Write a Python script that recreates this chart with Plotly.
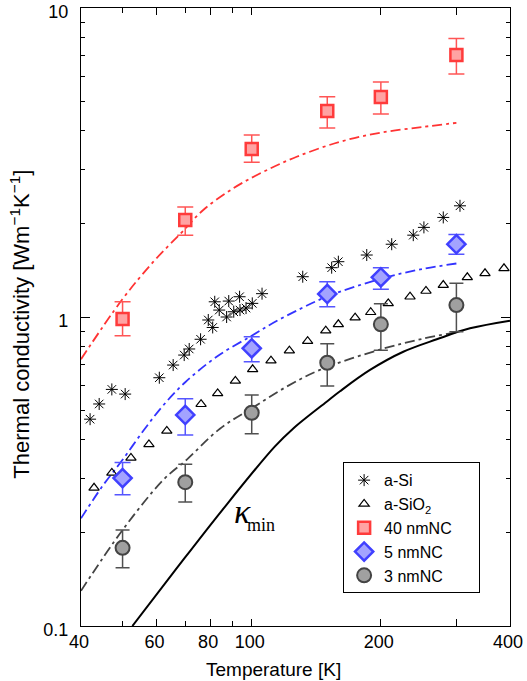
import numpy as np
import plotly.graph_objects as go

# ---------------- data ----------------
# a-Si (asterisks)
asi_T = [42.0, 44.1, 47.2, 50.7, 60.9, 65.6, 69.6, 71.5, 76.0, 79.2, 81.1, 82.0, 84.0,
         87.4, 88.4, 90.8, 93.7, 93.9, 97.0, 100.3, 105.7, 131.5, 153.6, 159.2, 185.4,
         212, 238, 252, 279.6, 305.8]
asi_k = [0.467, 0.523, 0.583, 0.563, 0.636, 0.699, 0.753, 0.788, 0.847, 0.978, 0.925, 1.12, 1.053,
         1.0, 1.126, 1.04, 1.163, 1.053, 1.069, 1.107, 1.19, 1.35, 1.444, 1.51, 1.587,
         1.72, 1.84, 1.95, 2.10, 2.29]

# a-SiO2 (open triangles)
sio2_T = [42.9, 47.2, 52.3, 57.6, 63.4, 76.2, 83.3, 91.6, 100.5, 110.9, 122.4, 135, 148.8,
          159.2, 174.2, 189.4, 208.1, 233.9, 254.8, 279.6, 318.1, 349.8, 387.3]
sio2_k = [0.280, 0.313, 0.350, 0.387, 0.428, 0.522, 0.566, 0.621, 0.677, 0.722, 0.778, 0.835, 0.903,
          0.947, 0.995, 1.036, 1.107, 1.163, 1.214, 1.269, 1.344, 1.385, 1.437]

# nanocrystals
nc_T = [50, 70, 100, 150, 200, 300]
nc40_k = [0.985, 2.06, 3.50, 4.64, 5.15, 7.04]
nc40_hi = [1.12, 2.27, 3.88, 5.16, 5.76, 7.96]
nc40_lo = [0.87, 1.84, 3.17, 4.09, 4.54, 6.12]

nc5_k = [0.301, 0.482, 0.792, 1.187, 1.344, 1.72]
nc5_hi = [0.338, 0.544, 0.863, 1.30, 1.444, 1.85]
nc5_lo = [0.266, 0.415, 0.717, 1.08, 1.23, 1.596]

nc3_k = [0.179, 0.292, 0.49, 0.711, 0.947, 1.093]
nc3_hi = [0.2045, 0.334, 0.559, 0.82, 1.104, 1.285]
nc3_lo = [0.1544, 0.252, 0.419, 0.598, 0.78, 0.896]

# model curves
fit40_T = [40, 49.8, 59.0, 68.7, 77.1, 90.6, 106.4, 127.3, 160.6, 200, 250, 300]
fit40_k = [0.73, 1.135, 1.51, 1.88, 2.22, 2.61, 2.95, 3.30, 3.69, 3.95, 4.12, 4.25]

fit5_T = [40, 45, 50, 56, 62, 70, 83, 100, 115, 132, 150, 200, 250, 300]
fit5_k = [0.223, 0.285, 0.345, 0.43, 0.515, 0.615, 0.745, 0.87, 0.975, 1.075, 1.165, 1.33, 1.43, 1.49]

fit3_T = [40, 50, 62.2, 70.5, 84.3, 100.8, 120.6, 144.2, 200, 250, 300]
fit3_k = [0.130, 0.2045, 0.297, 0.345, 0.435, 0.51, 0.595, 0.674, 0.786, 0.85, 0.892]

kmin_T = [52.7, 66.2, 85.1, 113, 125, 149.5, 160.6, 188.7, 225.6, 270, 322.7, 400]
kmin_k = [0.100, 0.151, 0.236, 0.380, 0.436, 0.532, 0.575, 0.674, 0.772, 0.847, 0.919, 0.973]

x_tickvals = [40, 60, 80, 100, 200, 300, 400]
x_ticktext = ["40", "60", "80", "100", "200", "", "400"]
x_minor = [50, 70, 90]
y_tickvals = [0.1, 1, 10]
y_ticktext = ["0.1", "1", "10"]
y_minor = [0.2, 0.3, 0.4, 0.5, 0.6, 0.7, 0.8, 0.9, 2, 3, 4, 5, 6, 7, 8, 9]

# ---------------- figure ----------------
FONT = "Liberation Sans, Arial, Helvetica, sans-serif"
SERIF = "Liberation Serif, Times New Roman, serif"
fig = go.Figure()

dash = "10px,4px,3px,4px"
fig.add_trace(go.Scatter(x=fit40_T, y=fit40_k, mode="lines", line=dict(color="#ff3333", width=1.8, dash=dash, shape="spline"),
                         showlegend=False, hoverinfo="skip"))
fig.add_trace(go.Scatter(x=fit5_T, y=fit5_k, mode="lines", line=dict(color="#3333ff", width=1.8, dash=dash, shape="spline"),
                         showlegend=False, hoverinfo="skip"))
fig.add_trace(go.Scatter(x=fit3_T, y=fit3_k, mode="lines", line=dict(color="#444444", width=1.8, dash=dash, shape="spline"),
                         showlegend=False, hoverinfo="skip"))
fig.add_trace(go.Scatter(x=kmin_T, y=kmin_k, mode="lines", line=dict(color="black", width=2, shape="spline"),
                         showlegend=False, hoverinfo="skip"))

fig.add_trace(go.Scatter(x=asi_T, y=asi_k, mode="markers", name="a-Si",
                         marker=dict(symbol="asterisk-open", size=10, color="black", line=dict(color="black", width=1))))
fig.add_trace(go.Scatter(x=sio2_T, y=sio2_k, mode="markers", name="a-SiO<sub>2</sub>",
                         marker=dict(symbol="triangle-up-open", size=9, color="black", line=dict(color="black", width=1.2))))

def err(k, hi, lo):
    k = np.array(k); return dict(type="data", symmetric=False, array=list(np.array(hi) - k),
                                 arrayminus=list(k - np.array(lo)))

e40 = err(nc40_k, nc40_hi, nc40_lo); e40.update(color="#ff5555", thickness=1.5, width=8)
fig.add_trace(go.Scatter(x=nc_T, y=nc40_k, mode="markers", name="40 nmNC" + "\u00a0" * 5, error_y=e40,
                         marker=dict(symbol="square", size=12, color="#ffa3a3", line=dict(color="#ff3b3b", width=2.5))))
e5 = err(nc5_k, nc5_hi, nc5_lo); e5.update(color="#5555ff", thickness=1.5, width=8)
fig.add_trace(go.Scatter(x=nc_T, y=nc5_k, mode="markers", name="5 nmNC", error_y=e5,
                         marker=dict(symbol="diamond", size=14, color="#a3a3ff", line=dict(color="#4040ff", width=2.5))))
e3 = err(nc3_k, nc3_hi, nc3_lo); e3.update(color="#505050", thickness=1.5, width=7)
fig.add_trace(go.Scatter(x=nc_T, y=nc3_k, mode="markers", name="3 nmNC", error_y=e3,
                         marker=dict(symbol="circle", size=14, color="#a0a0a0", line=dict(color="#444444", width=2))))

axis_common = dict(type="log", showline=True, linecolor="black", linewidth=1.2, mirror="ticks",
                   ticks="inside", tickcolor="black", tickwidth=1, showgrid=False, zeroline=False,
                   automargin=False, ticklabeloverflow="allow",
                   tickfont=dict(family=FONT, size=18, color="black"))

fig.update_xaxes(**axis_common, range=[np.log10(40), np.log10(400)], tickmode="array",
                 tickvals=x_tickvals, ticktext=x_ticktext, ticklen=7, ticklabelstandoff=-1, ticklabelshift=-2,
                 minor=dict(tickmode="array", tickvals=x_minor, ticklen=5, ticks="inside", tickcolor="black", showgrid=False))
fig.update_yaxes(**axis_common, range=[-1, 1], tickmode="array",
                 tickvals=y_tickvals, ticktext=y_ticktext, ticklen=9, ticklabelstandoff=8, ticklabelshift=4,
                 minor=dict(tickmode="array", tickvals=y_minor, ticklen=4, ticks="inside", tickcolor="black", showgrid=False))

fig.update_layout(
    template="none",
    width=527, height=681,
    margin=dict(l=81, r=17, t=8, b=55, autoexpand=False),
    paper_bgcolor="white", plot_bgcolor="white",
    font=dict(family=FONT, color="black"),
    legend=dict(x=0.611, y=0.265, xanchor="left", yanchor="top", bgcolor="white",
                bordercolor="black", borderwidth=1, font=dict(family=FONT, size=16, color="black"),
                tracegroupgap=6),
    annotations=[
        dict(text="Temperature [K]", xref="paper", yref="paper", x=0.4476, y=-0.0705,
             xanchor="center", yanchor="middle", showarrow=False, font=dict(family=FONT, size=19)),
        dict(text="Thermal conductivity [Wm<sup>−1</sup>K<sup>−1</sup>]", xref="paper", yref="paper",
             x=-0.1425, y=0.489, xanchor="center", yanchor="middle", textangle=-90, showarrow=False,
             font=dict(family=FONT, size=22)),
        dict(text="<i>κ</i>", xref="paper", yref="paper", x=0.353, y=0.1847, xanchor="left", yanchor="middle",
             showarrow=False, font=dict(family=SERIF, size=34)),
        dict(text="min", xref="paper", yref="paper", x=0.383, y=0.164, xanchor="left", yanchor="middle",
             showarrow=False, font=dict(family=SERIF, size=18)),
    ],
)

fig.write_html("out.html", config={"displayModeBar": False},
               post_script="document.body.style.margin='0';document.body.style.padding='0';")
